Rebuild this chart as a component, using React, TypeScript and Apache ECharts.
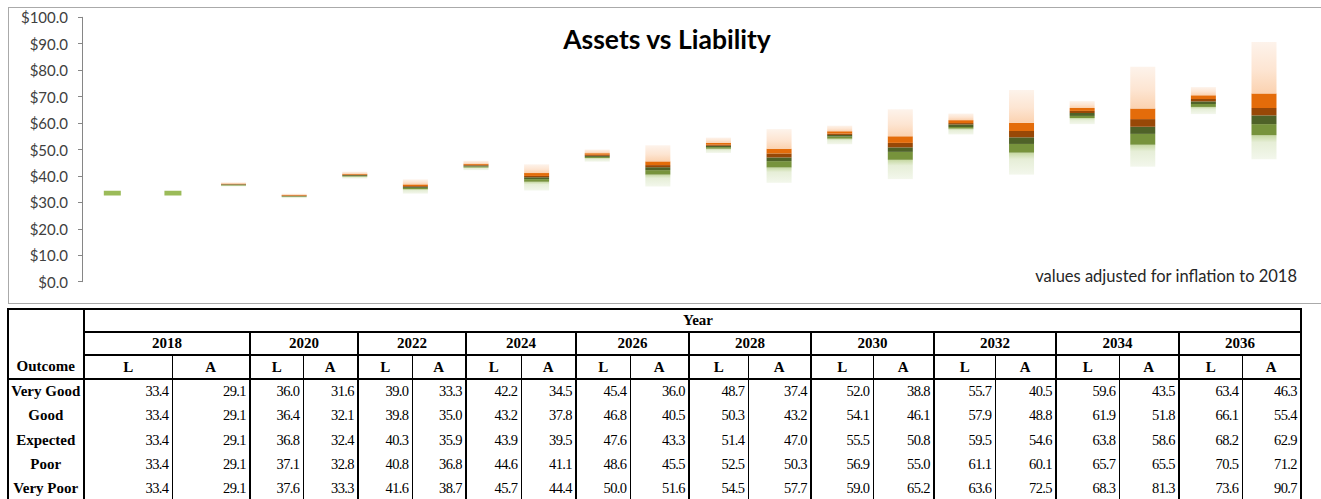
import React, { useEffect, useRef } from "react";
import * as echarts from "echarts";

const years = ["2018", "2020", "2022", "2024", "2026", "2028", "2030", "2032", "2034", "2036"];
const sides = ["L", "A"];
const outcomes = ["Very Good", "Good", "Expected", "Poor", "Very Poor"];

// table values, order: 2018 L, 2018 A, 2020 L, 2020 A, ...
const veryGood = [33.4, 29.1, 36.0, 31.6, 39.0, 33.3, 42.2, 34.5, 45.4, 36.0, 48.7, 37.4, 52.0, 38.8, 55.7, 40.5, 59.6, 43.5, 63.4, 46.3];
const good = [33.4, 29.1, 36.4, 32.1, 39.8, 35.0, 43.2, 37.8, 46.8, 40.5, 50.3, 43.2, 54.1, 46.1, 57.9, 48.8, 61.9, 51.8, 66.1, 55.4];
const expected = [33.4, 29.1, 36.8, 32.4, 40.3, 35.9, 43.9, 39.5, 47.6, 43.3, 51.4, 47.0, 55.5, 50.8, 59.5, 54.6, 63.8, 58.6, 68.2, 62.9];
const poor = [33.4, 29.1, 37.1, 32.8, 40.8, 36.8, 44.6, 41.1, 48.6, 45.5, 52.5, 50.3, 56.9, 55.0, 61.1, 60.1, 65.7, 65.5, 70.5, 71.2];
const veryPoor = [33.4, 29.1, 37.6, 33.3, 41.6, 38.7, 45.7, 44.4, 50.0, 51.6, 54.5, 57.7, 59.0, 65.2, 63.6, 72.5, 68.3, 81.3, 73.6, 90.7];

// intermediate band edges
const goodMid = [33.4, 29.1, 36.6, 32.3, 40.0, 35.5, 43.6, 38.8, 47.2, 42.2, 50.9, 45.6, 54.9, 49.1, 58.5, 52.1, 62.7, 55.9, 67.2, 59.6];
const poorMid = [33.4, 29.1, 36.9, 32.6, 40.5, 36.2, 44.2, 40.0, 48.0, 44.1, 51.8, 48.5, 56.0, 52.5, 60.0, 57.0, 64.6, 61.5, 69.1, 65.7];

// 2018 starting position marker
const startLow: (number | null)[] = [32.6, 32.6, null, null, null, null, null, null, null, null, null, null, null, null, null, null, null, null, null, null];
const startHigh: (number | null)[] = [34.4, 34.4, null, null, null, null, null, null, null, null, null, null, null, null, null, null, null, null, null, null];

const tableRows = [veryGood, good, expected, poor, veryPoor];
const categories = years.flatMap((y) => sides.map((s) => `${y} ${s}`));

const colWidths = [76.5, 88, 78, 53, 55, 54, 54, 55, 55, 54, 59, 59, 63, 62, 61, 61, 61, 63, 60, 63, 59];

const diff = (hi: number[], lo: number[]) => hi.map((v, i) => Math.round((v - lo[i]) * 100) / 100);

function Chart() {
  const ref = useRef<HTMLDivElement>(null);
  useEffect(() => {
    if (!ref.current) return;
    const chart = echarts.init(ref.current, undefined, { renderer: "svg" });
    const band = (name: string, data: number[], color: any) => ({
      type: "bar",
      name,
      stack: "band",
      data,
      barWidth: 25,
      silent: true,
      itemStyle: { color },
    });
    const peach = {
      type: "linear", x: 0, y: 0, x2: 0, y2: 1,
      colorStops: [
        { offset: 0, color: "#fdf3eb" },
        { offset: 0.55, color: "#fde5d2" },
        { offset: 1, color: "#fbd2b0" },
      ],
    };
    const paleGreen = {
      type: "linear", x: 0, y: 0, x2: 0, y2: 1,
      colorStops: [
        { offset: 0, color: "#c6d8a2" },
        { offset: 0.3, color: "#e6eed7" },
        { offset: 1, color: "#f3f7ec" },
      ],
    };
    chart.setOption({
      animation: false,
      grid: { left: 73, right: 26.7, top: 9.3, bottom: 21.3, outerBoundsMode: "none" },
      xAxis: [
        { type: "category", data: categories, show: false },
        { type: "category", data: categories, show: false },
      ],
      yAxis: {
        type: "value",
        min: 0,
        max: 100,
        interval: 10,
        axisLine: { show: true, lineStyle: { color: "#868686", width: 1 } },
        axisTick: { show: true, length: 4, lineStyle: { color: "#868686" } },
        splitLine: { show: false },
        axisLabel: {
          formatter: (v: number) => "$" + v.toFixed(1),
          color: "#404040",
          fontFamily: "Lato",
          fontSize: 15,
          margin: 14,
        },
      },
      graphic: [
        {
          type: "text",
          x: 658,
          y: 30.5,
          style: {
            text: "Assets vs Liability",
            textAlign: "center",
            textVerticalAlign: "middle",
            font: "bold 26.5px Lato",
            fill: "#000000",
          },
        },
        {
          type: "text",
          x: 1288,
          y: 268,
          style: {
            text: "values adjusted for inflation to 2018",
            textAlign: "right",
            textVerticalAlign: "middle",
            font: "16.5px Lato",
            fill: "#262626",
          },
        },
      ],
      series: [
        { ...band("base", veryGood, "transparent") },
        band("Very Good–Good", diff(good, veryGood), paleGreen),
        band("Good–mid", diff(goodMid, good), "#77933c"),
        band("mid–Expected", diff(expected, goodMid), "#4f6228"),
        band("Expected–mid", diff(poorMid, expected), "#984807"),
        band("mid–Poor", diff(poor, poorMid), "#e46c0a"),
        band("Poor–Very Poor", diff(veryPoor, poor), peach),
        {
          type: "bar",
          name: "startBase",
          xAxisIndex: 1,
          stack: "start",
          barWidth: 17,
          silent: true,
          data: startLow.map((v) => (v == null ? "-" : v)),
          itemStyle: { color: "transparent" },
        },
        {
          type: "bar",
          name: "2018",
          xAxisIndex: 1,
          stack: "start",
          barWidth: 17,
          silent: true,
          data: startHigh.map((v, i) => (v == null || startLow[i] == null ? "-" : Math.round((v - (startLow[i] as number)) * 100) / 100)),
          itemStyle: { color: "#9bbb59" },
        },
      ],
    });
    return () => chart.dispose();
  }, []);
  return (
    <div
      ref={ref}
      style={{ position: "absolute", left: 9, top: 8, width: 1312, height: 295 }}
    />
  );
}

const B = "2px solid #000";
const T = "1px solid #000";

function DataTable() {
  const font = '"Liberation Serif", "Times New Roman", serif';
  const head: React.CSSProperties = {
    fontWeight: "bold",
    fontSize: 15,
    textAlign: "center",
    padding: 0,
    border: B,
    whiteSpace: "nowrap",
  };
  return (
    <table
      style={{
        position: "absolute",
        left: 6.5,
        top: 307.5,
        borderCollapse: "collapse",
        tableLayout: "fixed",
        width: colWidths.reduce((a, b) => a + b, 0),
        fontFamily: font,
        color: "#000",
        border: B,
      }}
    >
      <colgroup>
        {colWidths.map((w, i) => (
          <col key={i} style={{ width: w }} />
        ))}
      </colgroup>
      <tbody>
        <tr style={{ height: 23.5 }}>
          <td rowSpan={3} style={{ ...head, verticalAlign: "bottom", paddingBottom: 3 }}>
            Outcome
          </td>
          <td colSpan={20} style={{ ...head, textAlign: "left", paddingLeft: 598 }}>
            Year
          </td>
        </tr>
        <tr style={{ height: 23 }}>
          {years.map((y) => (
            <td key={y} colSpan={2} style={head}>
              {y}
            </td>
          ))}
        </tr>
        <tr style={{ height: 24 }}>
          {years.map((y) =>
            sides.map((s, j) => (
              <td
                key={y + s}
                style={{
                  ...head,
                  borderLeft: j === 0 ? B : T,
                  borderRight: j === 1 ? B : T,
                }}
              >
                {s}
              </td>
            ))
          )}
        </tr>
        {outcomes.map((o, r) => (
          <tr key={o} style={{ height: 24.5 }}>
            <td
              style={{
                ...head,
                borderTop: "none",
                borderBottom: r === outcomes.length - 1 ? B : "none",
              }}
            >
              {o}
            </td>
            {tableRows[r].map((v, i) => (
              <td
                key={i}
                style={{
                  fontSize: 14.5,
                  textAlign: "right",
                  padding: "0 3px 0 0",
                  letterSpacing: -0.6,
                  borderLeft: i % 2 === 0 ? B : T,
                  borderRight: i % 2 === 1 ? B : T,
                  borderTop: "none",
                  borderBottom: r === outcomes.length - 1 ? B : "none",
                  whiteSpace: "nowrap",
                }}
              >
                {v.toFixed(1)}
              </td>
            ))}
          </tr>
        ))}
      </tbody>
    </table>
  );
}

export default function App() {
  return (
    <div
      style={{
        position: "fixed",
        left: 0,
        top: 0,
        width: 1321,
        height: 499,
        overflow: "hidden",
        background: "#fff",
      }}
    >
      <div
        style={{
          position: "absolute",
          left: 8,
          top: 7,
          width: 1330,
          height: 297,
          boxSizing: "border-box",
          border: "1px solid #aaaaaa",
        }}
      />
      <Chart />
      <DataTable />
    </div>
  );
}
